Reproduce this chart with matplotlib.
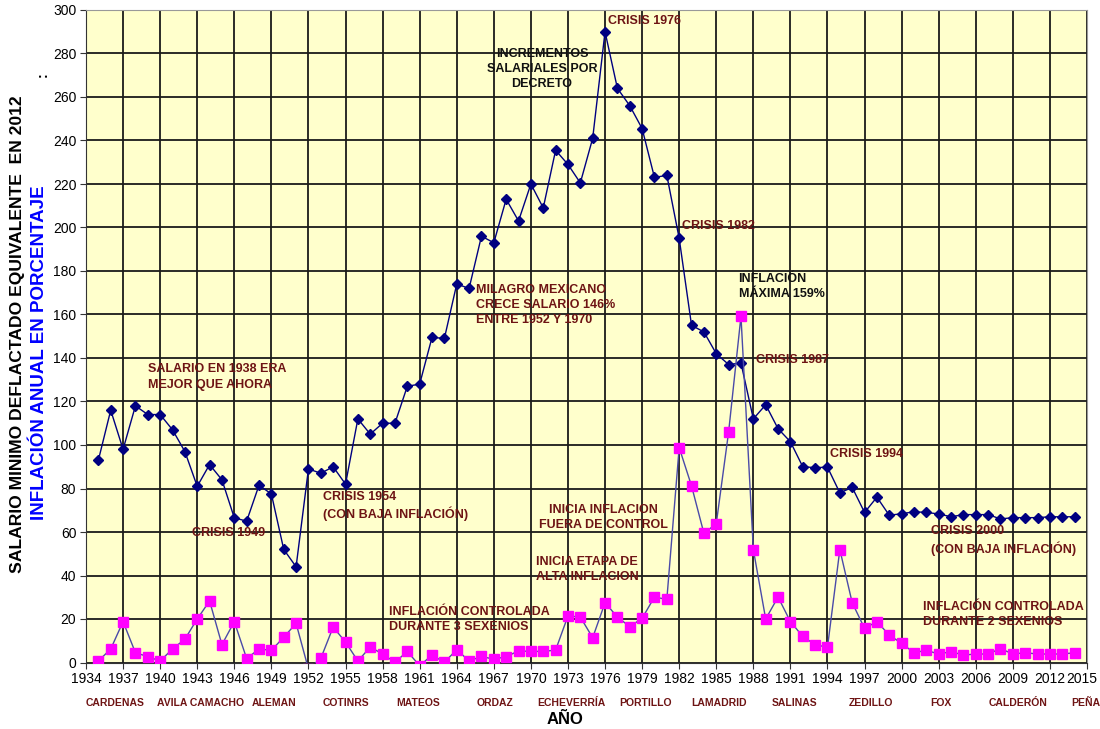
"""Salario minimo deflactado e inflacion anual en Mexico, 1935-2014."""

from matplotlib import pyplot as plt
from matplotlib.transforms import ScaledTranslation

# years shown on the chart (one point per year)
years = list(range(1935, 2015))

# minimum wage, deflated to 2012 equivalent
salario = [93, 116, 98, 118, 114, 114, 107, 97, 81, 91,
           84, 66.5, 65, 81.5, 77.5, 52, 44, 89, 87, 90,
           82, 112, 105, 110, 110, 127, 128, 149.5, 149, 174,
           172, 196, 193, 213, 203, 220, 209, 235.5, 229, 220.5,
           241, 290, 264, 256, 245.5, 223, 224, 195, 155, 152,
           142, 137, 137.7, 112, 118.5, 107.5, 101.5, 90, 89.6, 89.8,
           78, 80.5, 69, 76, 67.7, 68.4, 69.3, 69, 68.3, 67,
           68, 68, 68, 66, 66.6, 66.6, 66.6, 67, 67, 67]

# annual inflation in percent
inflacion = [0.7, 6.2, 18.8, 4.5, 2.7, 0.7, 6.2, 10.7, 20, 28.3,
             8.2, 18.8, 1.8, 6.2, 5.6, 11.6, 18, -3, 1.9, 16.3,
             9.4, 0.7, 7.1, 3.9, 0.1, 5.1, -1.5, 3.4, 0.1, 5.9,
             0.7, 2.8, 1.5, 2.7, 5.3, 5.1, 5.1, 5.7, 21.4, 20.9,
             11.4, 27.5, 20.9, 16.5, 20.3, 30.1, 29, 98.8, 81.2, 59.4,
             63.8, 106, 159.2, 51.9, 20, 30.1, 18.8, 12, 8.2, 7,
             51.9, 27.5, 15.7, 18.8, 12.6, 8.8, 4.5, 5.6, 3.9, 5,
             3.4, 3.9, 3.9, 6.4, 3.9, 4.5, 3.9, 3.9, 3.9, 4.5]

# presidents written under the year axis
presidentes = ['CARDENAS', 'AVILA CAMACHO', 'ALEMAN', 'COTINRS', 'MATEOS',
               'ORDAZ', 'ECHEVERRÍA', 'PORTILLO', 'LAMADRID', 'SALINAS',
               'ZEDILLO', 'FOX', 'CALDERÓN', 'PEÑA']
presidentes_x = [1936.35, 1943.25, 1949.25, 1955.0, 1960.9, 1967.1, 1973.3,
                 1979.3, 1985.2, 1991.3, 1997.5, 2003.2, 2009.4, 2014.9]

# notes inside the chart: (text, x, y, alignment, colour key)
notas = [
    ('SALARIO EN 1938 ERA\nMEJOR QUE AHORA', 1939.0, 137.5, 'left', 'r'),
    ('CRISIS 1949', 1942.6, 62.5, 'left', 'r'),
    ('CRISIS 1954\n(CON BAJA INFLACIÓN)', 1953.2, 79, 'left', 'r'),
    ('INCREMENTOS\nSALARIALES POR\nDECRETO', 1970.9, 282.5, 'center', 'k'),
    ('CRISIS 1976', 1976.25, 297.5, 'left', 'r'),
    ('CRISIS 1982', 1982.25, 203.5, 'left', 'r'),
    ('MILAGRO MEXICANO\nCRECE SALARIO 146%\nENTRE 1952 Y 1970',
     1965.55, 174, 'left', 'r'),
    ('INFLACIÓN\nMÁXIMA 159%', 1986.8, 179, 'left', 'k'),
    ('CRISIS 1987', 1988.2, 142, 'left', 'r'),
    ('CRISIS 1994', 1994.2, 98.5, 'left', 'r'),
    ('CRISIS 2000\n(CON BAJA INFLACIÓN)', 2002.4, 63, 'left', 'r'),
    ('INFLACIÓN CONTROLADA\nDURANTE 2 SEXENIOS', 2001.7, 28.5, 'left', 'r'),
    ('INFLACIÓN CONTROLADA\nDURANTE 3 SEXENIOS', 1958.5, 26, 'left', 'r'),
    ('INICIA ETAPA DE\nALTA INFLACION', 1970.4, 49, 'left', 'r'),
    ('INICIA INFLACION\nFUERA DE CONTROL', 1975.9, 73, 'center', 'r'),
]

plt.rcParams['font.family'] = ['Liberation Sans', 'DejaVu Sans']

fig = plt.figure(figsize=(11, 7.29), dpi=100)
ax = fig.add_axes([86 / 1100, 66.5 / 729, 1001 / 1100, 652.5 / 729])
ax.set_facecolor('#FFFFCC')

# grid behind the lines
ax.set_axisbelow(True)
ax.grid(True, color='#1a1a1a', linewidth=1.3)

# the two series
ax.plot(years, salario, color='#000080', linewidth=1.0, marker='D',
        markersize=5.5, markerfacecolor='#000080',
        markeredgecolor='#000080', zorder=3)
ax.plot(years, inflacion, color='#4a4aa8', linewidth=1.0, marker='s',
        markersize=6.5, markerfacecolor='#FF00FF',
        markeredgecolor='#FF00FF', zorder=3)

# axes ranges and ticks
ax.set_xlim(1934, 2015)
ax.set_ylim(0, 300)
ax.set_xticks(range(1934, 2016, 3))
ax.set_yticks(range(0, 301, 20))
ax.tick_params(axis='both', labelsize=10, length=4, color='#333333',
               direction='out', pad=3)

# keep the last year label inside the picture
ultimo = ax.get_xticklabels()[-1]
ultimo.set_transform(ultimo.get_transform()
                     + ScaledTranslation(-5 / 100, 0, fig.dpi_scale_trans))

for side in ['top', 'right']:
    ax.spines[side].set_color('#999999')
ax.spines['left'].set_color('#333333')
ax.spines['bottom'].set_color('#333333')

# notes in the plot
rojo = '#6E1414'
for texto, x, y, alin, col in notas:
    ax.text(x, y, texto, ha=alin, va='top', fontsize=9, fontweight='bold',
            color=rojo if col == 'r' else '#111111', linespacing=1.35,
            zorder=4)

# presidents under the year labels
for nombre, x in zip(presidentes, presidentes_x):
    ax.text(x, -40.5 / 652.5 * 300, nombre, ha='center', va='center',
            fontsize=7.5, fontweight='bold', color=rojo, clip_on=False)

# axis titles
fig.text(565 / 1100, 1 - 720 / 729, 'AÑO', ha='center', va='center',
         fontsize=12, fontweight='bold')
fig.text(18 / 1100, 1 - 334 / 729,
         'SALARIO MINIMO DEFLACTADO EQUIVALENTE  EN 2012', rotation=90,
         ha='center', va='center', fontsize=12.6, fontweight='bold')
fig.text(40 / 1100, 1 - 353 / 729, 'INFLACIÓN ANUAL EN PORCENTAJE',
         rotation=90, ha='center', va='center', fontsize=13.5,
         fontweight='bold', color='#0000FF')
fig.text(43 / 1100, 1 - 75 / 729, ':', rotation=90, ha='center',
         va='center', fontsize=10, fontweight='bold')

fig.savefig('out.png', dpi=100)
